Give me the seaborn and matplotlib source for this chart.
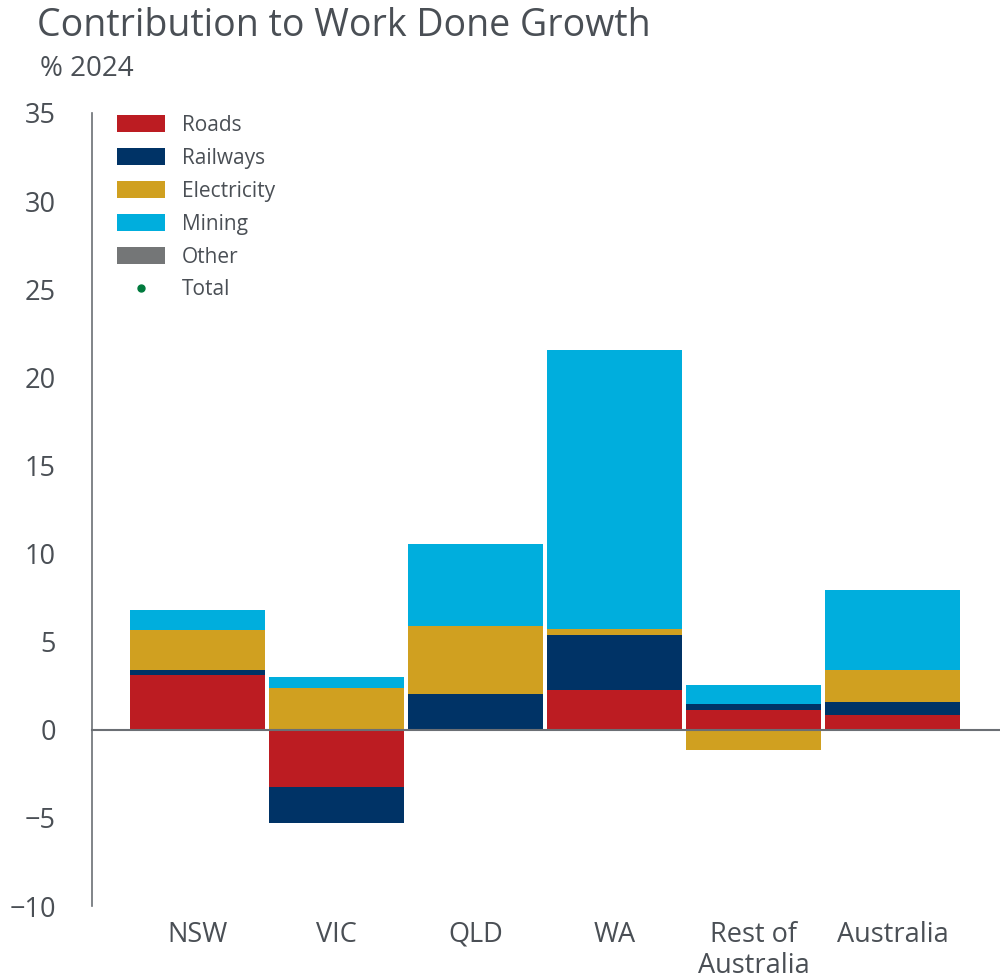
import numpy as np
import pandas as pd
import seaborn as sns
import matplotlib.pyplot as plt
from matplotlib.patches import Patch
from matplotlib.lines import Line2D

regions = ['NSW', 'VIC', 'QLD', 'WA', 'Rest of\nAustralia', 'Australia']
roads = [3.13, -3.26, 0.0, 2.26, 1.12, 0.86]
railways = [0.26, -2.01, 2.01, 3.14, 0.34, 0.74]
electricity = [2.29, 2.39, 3.88, 0.32, -1.13, 1.81]
mining = [1.12, 0.60, 4.65, 15.83, 1.06, 4.52]
other = [0.0, 0.0, 0.0, 0.0, 0.0, 0.0]

series = ['Roads', 'Railways', 'Electricity', 'Mining', 'Other']
colors = {'Roads': '#bc1c22', 'Railways': '#003366', 'Electricity': '#d0a020',
          'Mining': '#00aedd', 'Other': '#747677'}
total_color = '#007a3d'
txt = '#4a4f55'

sns.set_style('white')
plt.rcParams['font.family'] = ['Open Sans', 'DejaVu Sans']

df = pd.DataFrame({'Roads': roads, 'Railways': railways, 'Electricity': electricity,
                   'Mining': mining, 'Other': other}, index=regions)

# cumulative positive / negative stacks, drawn from the outside in so smaller bars overlap
pos = df.clip(lower=0).cumsum(axis=1)
neg = df.clip(upper=0).cumsum(axis=1)

fig = plt.figure(figsize=(10, 9.8), dpi=100)
ax = fig.add_axes([0.092, 0.0755, 0.908, 0.8092])

for s in reversed(series):
    for stack in (pos, neg):
        sns.barplot(x=regions, y=stack[s].values, color=colors[s], saturation=1,
                    width=0.97, linewidth=0, ax=ax)

ax.set_xlim(-0.76, 5.77)
ax.set_ylim(-10, 35)
ax.set_yticks(range(-10, 36, 5))

for sp in ['top', 'right']:
    ax.spines[sp].set_visible(False)
ax.spines['bottom'].set_position(('data', 0))
ax.spines['bottom'].set_color('#6b6f74')
ax.spines['bottom'].set_linewidth(1.5)
ax.spines['left'].set_color('#6b6f74')
ax.spines['left'].set_linewidth(1.2)

ax.tick_params(axis='y', direction='out', length=8, width=1.2, color='#6b6f74',
               labelsize=19.5, labelcolor=txt, pad=18)
ax.tick_params(axis='x', direction='out', length=8, width=1.2, color='#6b6f74',
               labelsize=19.5, labelcolor=txt, pad=129.5)
ax.set_xticks(range(len(regions)))
ax.set_xticklabels(regions, linespacing=1.17, va='top')
ax.set_xlabel('')
ax.set_ylabel('')

handles = [Patch(facecolor=colors[s], edgecolor='none') for s in series]
handles.append(Line2D([], [], marker='o', linestyle='none', color=total_color, markersize=5))
ax.legend(handles, series + ['Total'], loc='upper left', bbox_to_anchor=(0.007, 1.021),
          frameon=False, fontsize=15, labelcolor=txt, handlelength=2.3, handleheight=0.87,
          handletextpad=0.82, labelspacing=0.57)

fig.text(0.037, 0.993, 'Contribution to Work Done Growth', fontsize=27, color=txt, va='top')
fig.text(0.040, 0.930, '% 2024', fontsize=20, color=txt, va='center')

plt.savefig('out.png', dpi=100)
